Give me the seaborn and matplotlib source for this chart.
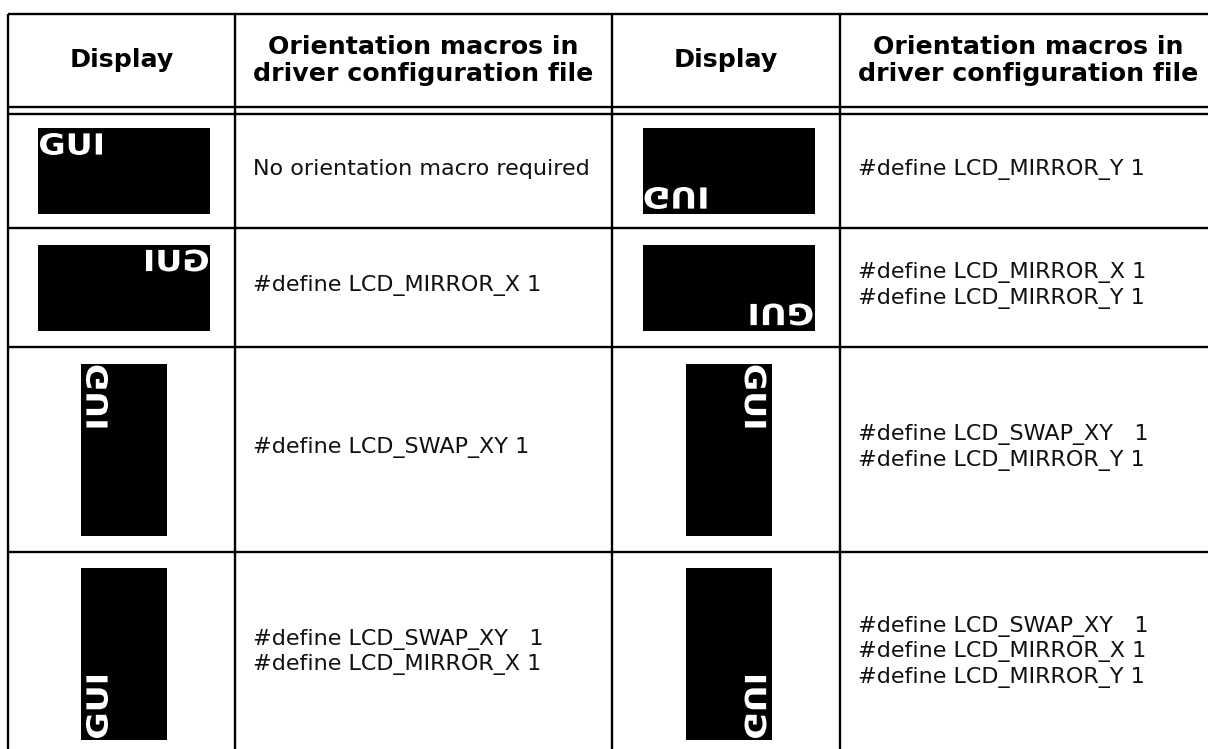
"""
LCD orientation table: display pictures vs. driver configuration macros.
Output: out.png (1208 x 749)
"""

import numpy as np
import matplotlib
matplotlib.use("Agg")
import matplotlib.pyplot as plt
import seaborn as sns
from matplotlib.patches import Rectangle, PathPatch
from matplotlib.path import Path
from matplotlib.textpath import TextPath
from matplotlib.font_manager import FontProperties

# ── Data ───────────────────────────────────────────────────────────────────────
HEADER_DISPLAY = "Display"
HEADER_MACROS  = "Orientation macros in\ndriver configuration file"
SCREEN_TEXT    = "GUI"

# one entry per panel, row by row, left pair then right pair
SWAP_XY  = [0, 0, 0, 0, 1, 1, 1, 1]
MIRROR_X = [0, 0, 1, 1, 0, 0, 1, 1]
MIRROR_Y = [0, 1, 0, 1, 0, 1, 0, 1]
MACROS = [
    "No orientation macro required",
    "#define LCD_MIRROR_Y 1",
    "#define LCD_MIRROR_X 1",
    "#define LCD_MIRROR_X 1\n#define LCD_MIRROR_Y 1",
    "#define LCD_SWAP_XY 1",
    "#define LCD_SWAP_XY   1\n#define LCD_MIRROR_Y 1",
    "#define LCD_SWAP_XY   1\n#define LCD_MIRROR_X 1",
    "#define LCD_SWAP_XY   1\n#define LCD_MIRROR_X 1\n#define LCD_MIRROR_Y 1",
]

# ── Layout (pixels, y downwards) ───────────────────────────────────────────────
W, H       = 1208, 749
COL_X      = [8, 235, 612, 840, 1217]
TOP_Y      = 14
HEAD_LINES = [107, 114]
ROW_Y      = [114, 228, 347, 552, 756]
LCD_LONG, LCD_SHORT = 172, 86
GLYPH_LEN, GLYPH_THICK = 62, 22
INSET_START, INSET_TOP = 2, 5
TEXT_PAD   = 18
LINE_W     = 1.7

# ── Style ──────────────────────────────────────────────────────────────────────
sns.set_theme(style="white")
plt.rcParams["font.family"] = ["DejaVu Sans"]
plt.rcParams["text.color"] = "black"
GLYPH_FONT = FontProperties(family="DejaVu Sans", weight="bold")


def draw_lcd(ax, cx, cy, swap, mx, my):
    pw, ph = (LCD_SHORT, LCD_LONG) if swap else (LCD_LONG, LCD_SHORT)
    x0, y0 = cx - pw / 2, cy - ph / 2
    ax.add_patch(Rectangle((x0, y0), pw, ph, facecolor="black", linewidth=0))

    # logical screen size (before the swap)
    lw_, lh_ = (ph, pw) if swap else (pw, ph)
    path = TextPath((0, 0), SCREEN_TEXT, size=10, prop=GLYPH_FONT)
    ext = path.get_extents()
    u = (path.vertices[:, 0] - ext.x0) / ext.width
    v = (path.vertices[:, 1] - ext.y0) / ext.height
    lx = INSET_START + u * GLYPH_LEN
    ly = INSET_TOP + (1 - v) * GLYPH_THICK
    if mx:
        lx = lw_ - lx
    if my:
        ly = lh_ - ly
    px, py = (ly, lx) if swap else (lx, ly)
    verts = np.column_stack([x0 + px, y0 + py])
    ax.add_patch(PathPatch(Path(verts, path.codes), facecolor="white", linewidth=0))


fig = plt.figure(figsize=(W / 100, H / 100), dpi=100)
ax = fig.add_axes([0, 0, 1, 1])
ax.set_xlim(0, W)
ax.set_ylim(H, 0)
ax.axis("off")

# grid lines
ax.hlines([TOP_Y] + HEAD_LINES + ROW_Y[1:-1], COL_X[0], W, color="black", linewidth=LINE_W)
ax.vlines(COL_X[:-1], TOP_Y, H, color="black", linewidth=LINE_W)

# header
head_cy = (TOP_Y + HEAD_LINES[0]) / 2
for pair in range(2):
    c0, c1, c2 = COL_X[2 * pair], COL_X[2 * pair + 1], COL_X[2 * pair + 2]
    ax.text((c0 + c1) / 2, head_cy, HEADER_DISPLAY, ha="center", va="center",
            fontsize=18.2, fontweight="bold")
    ax.text((c1 + c2) / 2, head_cy, HEADER_MACROS, ha="center", va="center",
            fontsize=18.2, fontweight="bold", linespacing=1.15)

# body
for i, macro in enumerate(MACROS):
    row, pair = divmod(i, 2)
    c0, c1 = COL_X[2 * pair], COL_X[2 * pair + 1]
    cy = (ROW_Y[row] + ROW_Y[row + 1]) / 2
    draw_lcd(ax, (c0 + c1) / 2 + 2.5, cy, SWAP_XY[i], MIRROR_X[i], MIRROR_Y[i])
    ax.text(c1 + TEXT_PAD, cy - 2, macro, ha="left", va="center",
            fontsize=16, linespacing=1.3, color="#111111")

fig.savefig("out.png", dpi=100)
plt.close(fig)
